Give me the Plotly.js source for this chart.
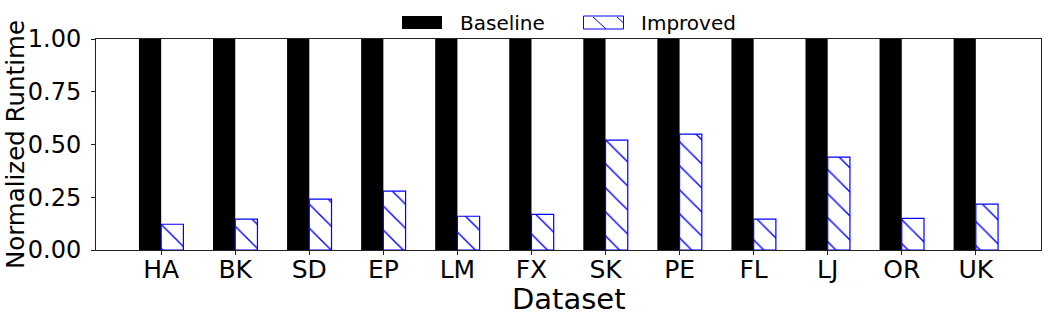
<!DOCTYPE html>
<html>
<head>
<meta charset="utf-8">
<script src="https://cdn.plot.ly/plotly-3.0.1.min.js"></script>
<style>
  html, body { margin: 0; padding: 0; background: #fff; }
  #chart { width: 1048px; height: 321px; }
</style>
</head>
<body>
<div id="chart"></div>
<script>
var datasets = ['HA', 'BK', 'SD', 'EP', 'LM', 'FX', 'SK', 'PE', 'FL', 'LJ', 'OR', 'UK'];
var baseline = [1, 1, 1, 1, 1, 1, 1, 1, 1, 1, 1, 1];
var improved = [0.122, 0.146, 0.241, 0.279, 0.160, 0.169, 0.521, 0.549, 0.146, 0.440, 0.150, 0.217];
var yTicks = [0, 0.25, 0.5, 0.75, 1.0];
var seriesNames = ['Baseline', 'Improved'];

var xIdx = datasets.map(function (d, i) { return i; });

var trace1 = {
  x: xIdx,
  y: baseline,
  name: seriesNames[0],
  type: 'bar',
  showlegend: false,
  marker: {
    color: 'black',
    line: { width: 0 }
  }
};

var trace2 = {
  x: xIdx,
  y: improved,
  name: seriesNames[1],
  type: 'bar',
  showlegend: false,
  marker: {
    color: 'white',
    line: { color: '#0000ff', width: 1.2 },
    pattern: { shape: '\\', fgcolor: '#0000ff', bgcolor: 'white', size: 17, solidity: 0.08 }
  }
};

// pixel -> paper helpers (plot area is 96..1041 x 39..250)
var px = function (x) { return (x - 96) / 945; };
var py = function (y) { return (250 - y) / 211; };

// matplotlib-style legend above the plot (wide patches)
var shapes = [
  { type: 'rect', xref: 'paper', yref: 'paper', x0: px(402), x1: px(442), y0: py(29), y1: py(16),
    fillcolor: 'black', line: { width: 0 } },
  { type: 'rect', xref: 'paper', yref: 'paper', x0: px(583.5), x1: px(623.5), y0: py(29), y1: py(16),
    fillcolor: 'white', line: { color: '#0000ff', width: 1 } },
  { type: 'line', xref: 'paper', yref: 'paper', x0: px(593), x1: px(606), y0: py(17), y1: py(29),
    line: { color: '#0000ff', width: 1 } },
  { type: 'line', xref: 'paper', yref: 'paper', x0: px(617), x1: px(623.5), y0: py(17), y1: py(23),
    line: { color: '#0000ff', width: 1 } }
];
var legendFont = { family: 'DejaVu Sans', size: 20, color: 'black' };
var annotations = [
  { xref: 'paper', yref: 'paper', x: px(458), y: py(22.5), xanchor: 'left', yanchor: 'middle',
    text: seriesNames[0], showarrow: false, font: legendFont },
  { xref: 'paper', yref: 'paper', x: px(639), y: py(22.5), xanchor: 'left', yanchor: 'middle',
    text: seriesNames[1], showarrow: false, font: legendFont },
  // axis titles
  { xref: 'paper', yref: 'paper', x: px(568.5), y: py(299), xanchor: 'center', yanchor: 'middle',
    text: 'Dataset', showarrow: false, font: { family: 'DejaVu Sans', size: 29, color: 'black' } },
  { xref: 'paper', yref: 'paper', x: px(15.5), y: py(144.6), xanchor: 'center', yanchor: 'middle',
    text: 'Normalized Runtime', textangle: -90, showarrow: false,
    font: { family: 'DejaVu Sans', size: 24.5, color: 'black' } }
];

var layout = {
  width: 1048,
  height: 321,
  margin: { l: 96, r: 7, t: 39, b: 71, autoexpand: false },
  paper_bgcolor: 'white',
  plot_bgcolor: 'white',
  barmode: 'group',
  bargap: 0.4,
  bargroupgap: 0,
  font: { family: 'DejaVu Sans', color: 'black' },
  showlegend: false,
  shapes: shapes,
  annotations: annotations,
  xaxis: {
    range: [-0.88, 11.88],
    tickmode: 'array',
    tickvals: xIdx,
    ticktext: datasets,
    ticks: 'outside', ticklen: 4, tickwidth: 1, tickcolor: '#222',
    tickfont: { family: 'DejaVu Sans', size: 25, color: 'black' },
    ticklabelstandoff: -7,
    showline: true, linecolor: '#222', linewidth: 1, mirror: true,
    showgrid: false, zeroline: false, automargin: false
  },
  yaxis: {
    range: [0, 1],
    tickmode: 'array',
    tickvals: yTicks,
    ticktext: yTicks.map(function (v) { return v.toFixed(2); }),
    ticks: 'outside', ticklen: 4, tickwidth: 1, tickcolor: '#222',
    tickfont: { family: 'DejaVu Sans', size: 24, color: 'black' },
    ticklabelstandoff: 5,
    showline: true, linecolor: '#222', linewidth: 1, mirror: true,
    showgrid: false, zeroline: false, automargin: false
  }
};

Plotly.newPlot('chart', [trace1, trace2], layout, { displayModeBar: false });
</script>
</body>
</html>
